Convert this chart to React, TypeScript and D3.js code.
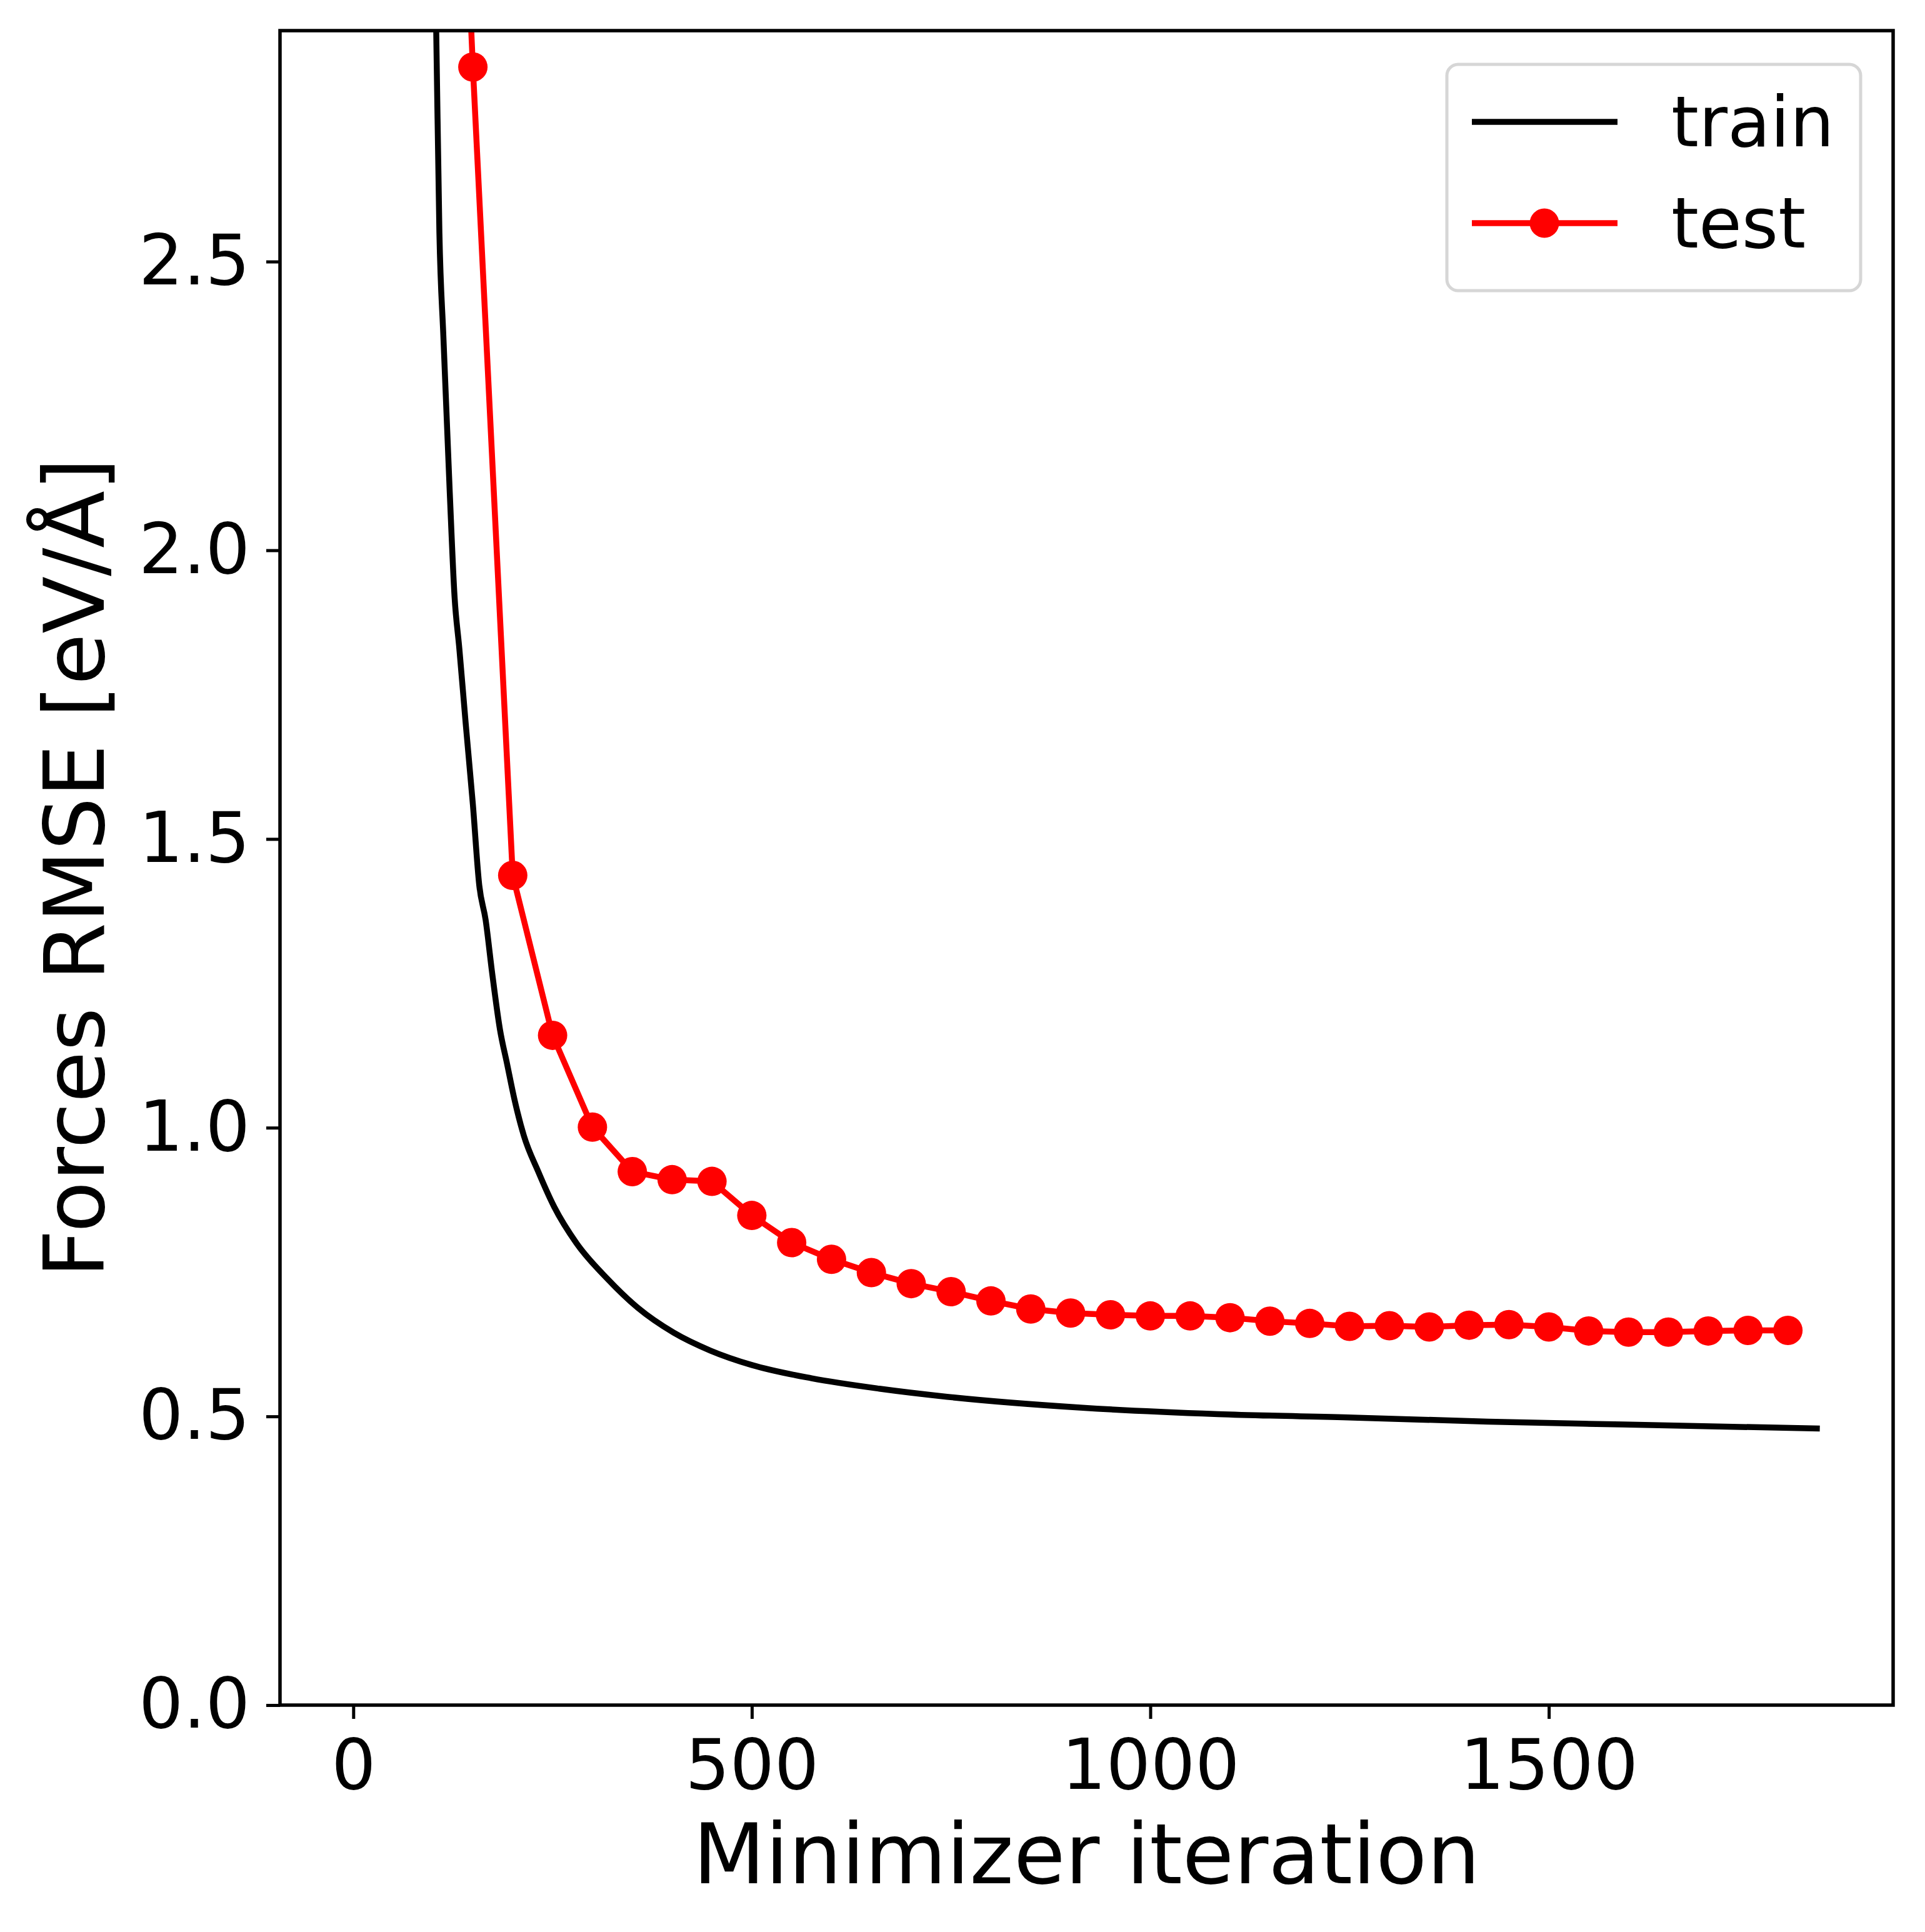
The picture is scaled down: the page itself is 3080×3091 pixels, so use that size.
import { useEffect, useRef } from 'react'
import * as d3 from 'd3'

// train curve (per-iteration RMSE; first two are above the y-limit)
const trainIter = [0, 90, 104, 108, 113, 121, 127, 133, 141, 150, 158, 166, 174, 184, 193, 202, 214, 232, 252, 280, 319, 357, 402, 448, 500, 575, 660, 745, 915, 1085, 1254, 1424, 1593, 1840]
const trainRmse = [9.0, 3.6, 2.9, 2.55, 2.37, 2.1, 1.92, 1.83, 1.7, 1.56, 1.42, 1.36, 1.27, 1.17, 1.11, 1.05, 0.986, 0.924, 0.863, 0.8, 0.738, 0.688, 0.645, 0.614, 0.589, 0.566, 0.548, 0.534, 0.515, 0.504, 0.498, 0.491, 0.486, 0.479]

// test evaluated every 50 iterations
const testIter = [100, 150, 200, 250, 300, 350, 400, 450, 500, 550, 600, 650, 700, 750, 800, 850, 900, 950, 1000, 1050, 1100, 1150, 1200, 1250, 1300, 1350, 1400, 1450, 1500, 1550, 1600, 1650, 1700, 1750, 1800]
const testRmse = [4.4, 2.837, 1.437, 1.16, 1.001, 0.924, 0.91, 0.907, 0.848, 0.801, 0.772, 0.749, 0.73, 0.716, 0.7, 0.686, 0.679, 0.676, 0.674, 0.674, 0.671, 0.665, 0.661, 0.656, 0.657, 0.655, 0.658, 0.659, 0.655, 0.648, 0.646, 0.646, 0.648, 0.649, 0.649]

const xTicks = [0, 500, 1000, 1500]
const yTicks = [0, 0.5, 1.0, 1.5, 2.0, 2.5]
const yLimits = [0, 2.9]
const legendLabels = ['train', 'test']

const FONT = '"DejaVu Sans", sans-serif'
const LW = 9.5

export default function App() {
  const svgRef = useRef<SVGSVGElement>(null)

  useEffect(() => {
    document.body.style.margin = '0'
    if (!svgRef.current) return

    const width = 3080
    const height = 3091
    const m = { top: 49, right: 51, bottom: 363, left: 448 }
    const iW = width - m.left - m.right
    const iH = height - m.top - m.bottom

    const svg = d3.select(svgRef.current)
    svg.selectAll('*').remove()
    svg.attr('width', width).attr('height', height)
    svg.append('rect').attr('width', width).attr('height', height).attr('fill', '#fff')

    const g = svg.append('g').attr('transform', `translate(${m.left},${m.top})`)

    const xExt = d3.extent(trainIter) as [number, number]
    const pad = (xExt[1] - xExt[0]) * 0.05
    const x = d3.scaleLinear().domain([xExt[0] - pad, xExt[1] + pad]).range([0, iW])
    const y = d3.scaleLinear().domain(yLimits).range([iH, 0])

    svg.append('defs').append('clipPath').attr('id', 'plot-clip')
      .append('rect').attr('width', iW).attr('height', iH)

    const plot = g.append('g').attr('clip-path', 'url(#plot-clip)')

    const train = trainIter.map((it, i) => [it, trainRmse[i]] as [number, number])
    const test = testIter.map((it, i) => [it, testRmse[i]] as [number, number])

    plot.append('path')
      .attr('fill', 'none').attr('stroke', '#000').attr('stroke-width', LW).attr('stroke-linejoin', 'round')
      .attr('d', d3.line().x(d => x(d[0])).y(d => y(d[1])).curve(d3.curveMonotoneX)(train))

    plot.append('path')
      .attr('fill', 'none').attr('stroke', '#ff0000').attr('stroke-width', LW).attr('stroke-linejoin', 'round')
      .attr('d', d3.line().x(d => x(d[0])).y(d => y(d[1]))(test))

    plot.append('g').selectAll('circle').data(test).enter().append('circle')
      .attr('cx', d => x(d[0])).attr('cy', d => y(d[1])).attr('r', 23.5).attr('fill', '#ff0000')

    // axes
    const styleAxis = (ax: d3.Selection<SVGGElement, unknown, null, undefined>) => {
      ax.select('.domain').remove()
      ax.selectAll('.tick line').attr('stroke', '#000').attr('stroke-width', 5)
      ax.selectAll('.tick text').attr('fill', '#000').attr('font-size', 112).attr('font-family', FONT)
    }
    g.append('g').attr('transform', `translate(0,${iH})`)
      .call(d3.axisBottom(x).tickValues(xTicks).tickSize(22).tickPadding(32).tickFormat(d3.format('d')))
      .call(styleAxis)
    g.append('g')
      .call(d3.axisLeft(y).tickValues(yTicks).tickSize(22).tickPadding(26).tickFormat(d3.format('.1f')))
      .call(styleAxis)

    // frame
    g.append('rect').attr('width', iW).attr('height', iH)
      .attr('fill', 'none').attr('stroke', '#000').attr('stroke-width', 5.5)

    // axis labels
    g.append('text').attr('x', iW / 2).attr('y', 3013 - m.top).attr('text-anchor', 'middle')
      .attr('font-family', FONT).attr('font-size', 134).attr('fill', '#000').text('Minimizer iteration')
    g.append('text').attr('transform', `translate(${166 - m.left},${iH / 2}) rotate(-90)`)
      .attr('text-anchor', 'middle')
      .attr('font-family', FONT).attr('font-size', 134).attr('fill', '#000').text('Forces RMSE [eV/Å]')

    // legend
    const lg = svg.append('g').attr('transform', 'translate(2315,103)')
    lg.append('rect').attr('width', 662).attr('height', 362).attr('rx', 18)
      .attr('fill', '#fff').attr('fill-opacity', 0.8).attr('stroke', '#d6d6d6').attr('stroke-width', 5)
    const rows = [
      { label: legendLabels[0], color: '#000', marker: false, y: 92 },
      { label: legendLabels[1], color: '#ff0000', marker: true, y: 254 },
    ]
    rows.forEach(r => {
      lg.append('line').attr('x1', 40).attr('x2', 273).attr('y1', r.y).attr('y2', r.y)
        .attr('stroke', r.color).attr('stroke-width', LW)
      if (r.marker) lg.append('circle').attr('cx', 156).attr('cy', r.y).attr('r', 23.5).attr('fill', r.color)
      lg.append('text').attr('x', 359).attr('y', r.y + 39)
        .attr('font-family', FONT).attr('font-size', 112).attr('fill', '#000').text(r.label)
    })
  }, [])

  return <svg ref={svgRef} style={{ display: 'block' }} />
}
